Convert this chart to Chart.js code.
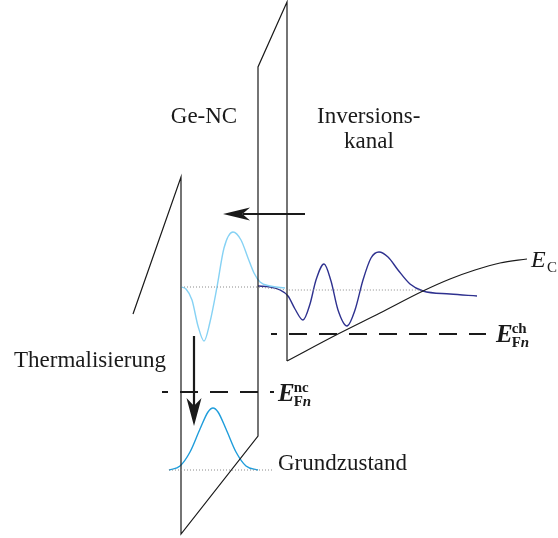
<!DOCTYPE html>
<html>
<head>
<meta charset="utf-8">
<script src="https://cdn.jsdelivr.net/npm/chart.js@4/dist/chart.umd.min.js"></script>
<style>
  html, body { margin: 0; padding: 0; background: #fff; }
  #wrap { width: 558px; height: 538px; }
</style>
</head>
<body>
<div id="wrap"><canvas id="band" width="558" height="538"></canvas></div>
<script>
// --- DATOS (ortskoordinate x, energie y; y wächst nach unten) ---
// Barrierenkontur: Oxid links, Ge-NC-Topf, Tunneloxid, Kanalkante
const barrierX = [133, 181, 181, 258, 258, 287, 287];
const barrierY = [314, 177, 534, 436, 67, 2, 361];

// Leitungsbandkante im Kanal E_C
const ecX = [287, 338, 380, 423, 450, 475, 500, 527];
const ecY = [361, 334, 313, 291, 279, 270, 263, 259];

// angeregter Zustand im Ge-NC (hellblau)
const ncWaveX = [181, 186, 192, 198, 204, 210, 217, 224, 233, 241, 248, 254, 260, 270, 285];
const ncWaveY = [287, 289, 300, 326, 341, 322, 287, 248, 232, 240, 258, 273, 282, 286, 288];

// Kanalzustand (dunkelblau)
const chWaveX = [258, 270, 280, 288, 295, 303, 310, 316, 324, 331, 338, 347, 355, 363, 371, 379, 388, 398, 410, 423, 450, 477];
const chWaveY = [286, 287, 290, 296, 309, 320, 304, 280, 264, 281, 310, 326, 310, 280, 258, 252, 257, 270, 284, 291, 294, 296];

// Grundzustand im Ge-NC
const groundX = [169, 180, 190, 200, 208, 213, 218, 226, 236, 246, 258];
const groundY = [470, 466, 452, 429, 412, 408, 412, 429, 452, 466, 470];

// gepunktete Energieniveaus
const levelExcitedX = [181, 258, 287, 423];
const levelExcitedY = [287, 287, 290, 290];
const levelGroundX = [169, 272];
const levelGroundY = [470, 470];

// Quasi-Ferminiveaus (gestrichelt)
const fermiChX = [271, 486];
const fermiChY = [334, 334];
const fermiNcX = [162, 274];
const fermiNcY = [392, 392];

// Pfeile: [x0, y0, xSpitze, ySpitze]
const tunnelArrow = [305, 214, 223, 214];
const thermArrow = [194, 336, 194, 426];

const pts = (xs, ys) => xs.map((x, i) => ({ x: x, y: ys[i] }));

const SERIF = '"Liberation Serif", "DejaVu Serif", serif';

function linie(data, color, width, extra) {
  return Object.assign({
    data: data,
    showLine: true,
    borderColor: color,
    borderWidth: width,
    pointRadius: 0,
    fill: false,
    tension: 0
  }, extra || {});
}

function pfeilSpitze(ctx, tx, ty, dir, len, half) {
  // dir: Einheitsvektor in Pfeilrichtung
  const [dx, dy] = dir;
  const nx = -dy, ny = dx;
  const bx = tx - dx * len, by = ty - dy * len;
  const cx = tx - dx * len * 0.72, cy = ty - dy * len * 0.72;
  ctx.beginPath();
  ctx.moveTo(tx, ty);
  ctx.lineTo(bx + nx * half, by + ny * half);
  ctx.quadraticCurveTo(cx, cy, cx, cy);
  ctx.lineTo(bx - nx * half, by - ny * half);
  ctx.closePath();
  ctx.fill();
}

// Beschriftungen und Pfeilspitzen
const beschriftung = {
  id: "beschriftung",
  afterDatasetsDraw(chart) {
    const ctx = chart.ctx;
    const sx = chart.scales.x, sy = chart.scales.y;
    const X = v => sx.getPixelForValue(v);
    const Y = v => sy.getPixelForValue(v);
    ctx.save();
    ctx.fillStyle = "#1a1a1a";

    // Pfeilspitzen
    pfeilSpitze(ctx, X(tunnelArrow[2]), Y(tunnelArrow[3]), [-1, 0], 27, 6.5);
    pfeilSpitze(ctx, X(thermArrow[2]), Y(thermArrow[3]), [0, 1], 28, 7.5);

    ctx.textBaseline = "alphabetic";
    ctx.font = "23px " + SERIF;
    ctx.textAlign = "center";
    ctx.fillText("Ge-NC", X(204), Y(123));
    ctx.textAlign = "left";
    ctx.fillText("Inversions-", X(317), Y(123));
    ctx.fillText("kanal", X(344), Y(148));
    ctx.fillText("Thermalisierung", X(14), Y(367));
    ctx.fillText("Grundzustand", X(278), Y(470));

    // E_C
    ctx.font = "italic 24px " + SERIF;
    ctx.fillText("E", X(531), Y(267));
    ctx.font = "15px " + SERIF;
    ctx.fillText("C", X(547), Y(272));

    // E_Fn^ch und E_Fn^nc
    function fermiLabel(x, y, sup) {
      ctx.font = "bold italic 25px " + SERIF;
      ctx.fillText("E", X(x), Y(y));
      const w = ctx.measureText("E").width;
      ctx.font = "bold 15px " + SERIF;
      ctx.fillText(sup, X(x) + w - 1, Y(y) - 9);
      ctx.fillText("F", X(x) + w - 1, Y(y) + 5);
      const wf = ctx.measureText("F").width;
      ctx.font = "bold italic 15px " + SERIF;
      ctx.fillText("n", X(x) + w - 1 + wf, Y(y) + 5);
    }
    fermiLabel(496, 342, "ch");
    fermiLabel(278, 401, "nc");
    ctx.restore();
  }
};

new Chart(document.getElementById("band"), {
  type: "scatter",
  data: {
    datasets: [
      linie(pts(levelExcitedX, levelExcitedY), "#8a8a8a", 1, { borderDash: [1, 2] }),
      linie(pts(levelGroundX, levelGroundY), "#8a8a8a", 1, { borderDash: [1, 2] }),
      linie(pts(barrierX, barrierY), "#1a1a1a", 1.2),
      linie(pts(ecX, ecY), "#1a1a1a", 1.2, { cubicInterpolationMode: "monotone" }),
      linie(pts(fermiChX, fermiChY), "#1a1a1a", 2, { borderDash: [18, 12], borderDashOffset: 12 }),
      linie(pts(fermiNcX, fermiNcY), "#1a1a1a", 2, { borderDash: [18, 12], borderDashOffset: 12 }),
      linie(pts(ncWaveX, ncWaveY), "#86d2f4", 1.4, { cubicInterpolationMode: "monotone" }),
      linie(pts(chWaveX, chWaveY), "#2e318f", 1.4, { cubicInterpolationMode: "monotone" }),
      linie(pts(groundX, groundY), "#1f9ddb", 1.4, { cubicInterpolationMode: "monotone" }),
      linie(pts([tunnelArrow[0], tunnelArrow[2] + 20], [tunnelArrow[1], tunnelArrow[3]]), "#1a1a1a", 2.2),
      linie(pts([thermArrow[0], thermArrow[2]], [thermArrow[1], thermArrow[3] - 20]), "#1a1a1a", 2.2)
    ]
  },
  options: {
    responsive: false,
    animation: false,
    clip: false,
    layout: { padding: 0 },
    plugins: { legend: { display: false }, tooltip: { enabled: false } },
    scales: {
      x: { type: "linear", min: 0, max: 558, display: false },
      y: { type: "linear", min: 0, max: 538, reverse: true, display: false }
    }
  },
  plugins: [beschriftung]
});
</script>
</body>
</html>
